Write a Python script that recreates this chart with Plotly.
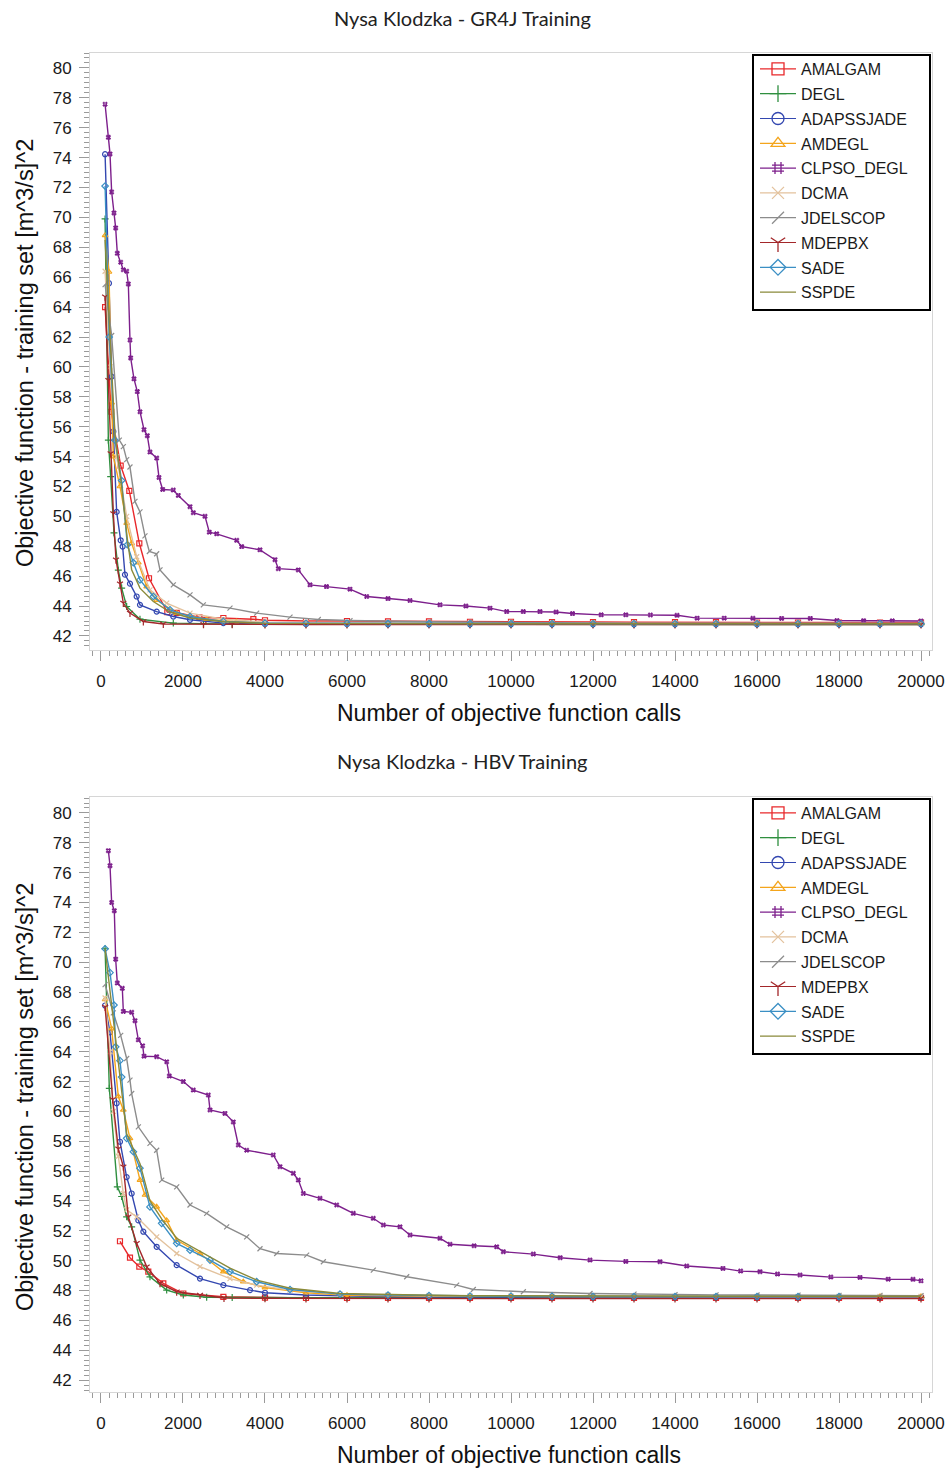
import plotly.graph_objects as go

# ---------------------------------------------------------------------------
# Convergence data: best objective value vs. number of objective function calls
# ---------------------------------------------------------------------------
NAMES = ["AMALGAM", "DEGL", "ADAPSSJADE", "AMDEGL", "CLPSO_DEGL",
         "DCMA", "JDELSCOP", "MDEPBX", "SADE", "SSPDE"]

TAIL_X = [4000, 5000, 6000, 7000, 8000, 9000, 10000, 11000, 12000, 13000,
          14000, 15000, 16000, 17000, 18000, 19000, 20000]

# ---- GR4J model ----
gr4j_amalgam_x = [100, 250, 480, 691, 935, 1171, 1618, 1846, 2400, 2984, 3716] + TAIL_X
gr4j_amalgam_y = [64.0, 57.0, 53.4, 51.7, 48.2, 45.86, 43.6, 43.55, 43.25, 43.2, 43.12,
                  43.05, 43.0, 43.0, 42.98, 42.97, 42.95, 42.95, 42.93, 42.93, 42.92, 42.92, 42.92, 42.9, 42.9, 42.9, 42.9, 42.9]

gr4j_degl_x = [100, 180, 236, 317, 423, 504, 626, 951, 1764, 2500, 3200] + TAIL_X
gr4j_degl_y = [69.9, 55.1, 52.66, 48.9, 46.4, 45.2, 43.97, 43.12, 42.86, 42.8, 42.79,
               42.78, 42.78, 42.78, 42.77, 42.77, 42.77, 42.77, 42.77, 42.77, 42.77, 42.77, 42.76, 42.76, 42.76, 42.76, 42.76, 42.76]

gr4j_adapssjade_x = [100, 195, 260, 301, 382, 480, 528, 585, 707, 870, 951, 1358, 1764, 2171, 2984] + TAIL_X
gr4j_adapssjade_y = [74.23, 65.6, 59.35, 55.68, 50.3, 48.4, 47.98, 46.1, 45.5, 44.64, 44.08, 43.63, 43.3, 43.08, 42.86,
                     42.8, 42.79, 42.79, 42.78, 42.78, 42.78, 42.78, 42.78, 42.78, 42.78, 42.78, 42.78, 42.78, 42.78, 42.78, 42.78, 42.78]

gr4j_amdegl_x = [100, 195, 260, 301, 463, 626, 748, 911, 1114, 1358, 1846, 2577, 3300] + TAIL_X
gr4j_amdegl_y = [68.8, 66.35, 57.6, 54.0, 52.0, 49.55, 48.2, 46.9, 45.3, 44.4, 43.53, 43.12, 42.95,
                 42.88, 42.86, 42.85, 42.84, 42.84, 42.83, 42.83, 42.82, 42.82, 42.82, 42.82, 42.82, 42.82, 42.82, 42.82, 42.82, 42.82]

gr4j_clpso_x = [100, 180, 220, 260, 317, 358, 398, 480, 545, 626, 667, 707, 724, 805, 886, 951, 1049, 1130, 1195,
                1358, 1415, 1504, 1764, 1886, 2171, 2252, 2537, 2642, 2822, 3310, 3431, 3878, 4244, 4325, 4813,
                5098, 5500, 6073, 6480, 7000, 7537, 8268, 8900, 9488, 9894, 10300, 10707, 11100, 11500, 12200,
                12800, 13400, 14050, 14540, 15200, 15900, 16600, 17300, 17950, 18600, 19300, 20000]
gr4j_clpso_y = [77.57, 75.36, 74.25, 71.7, 70.3, 69.3, 67.6, 67.0, 66.5, 66.4, 65.55, 61.8, 60.6, 59.2, 58.35, 57.0,
                55.8, 55.4, 54.3, 53.9, 52.6, 51.8, 51.76, 51.4, 50.65, 50.25, 50.0, 48.94, 48.83, 48.4, 47.98,
                47.76, 47.1, 46.5, 46.42, 45.42, 45.3, 45.13, 44.64, 44.5, 44.37, 44.08, 44.0, 43.86, 43.63,
                43.63, 43.63, 43.6, 43.5, 43.41, 43.41, 43.4, 43.38, 43.19, 43.19, 43.18, 43.17, 43.17, 43.03,
                43.02, 43.01, 43.0]

gr4j_dcma_x = [100, 220, 382, 626, 870, 1195, 1602, 2171, 2984] + TAIL_X
gr4j_dcma_y = [66.4, 60.0, 54.0, 50.0, 47.3, 45.08, 44.2, 43.53, 43.12,
               42.92, 42.9, 42.88, 42.87, 42.86, 42.85, 42.85, 42.84, 42.84, 42.84, 42.83, 42.83, 42.83, 42.83, 42.83, 42.83, 42.83]

gr4j_jdelscop_x = [100, 260, 447, 545, 626, 707, 829, 951, 1073, 1179, 1358, 1439, 1764, 2171, 2496, 3146, 3797,
                   4610, 5300, 6073] + TAIL_X[4:]
gr4j_jdelscop_y = [65.5, 62.1, 55.1, 54.67, 53.8, 53.3, 51.0, 50.3, 48.7, 47.65, 47.5, 46.42, 45.42, 44.75, 44.08,
                   43.86, 43.53, 43.26, 43.1, 43.03, 42.95, 42.92, 42.9, 42.88, 42.87, 42.86, 42.86, 42.85, 42.85,
                   42.85, 42.84, 42.84, 42.84]

gr4j_mdepbx_x = [100, 180, 236, 301, 366, 463, 545, 707, 1033, 1520, 2500, 3200] + TAIL_X
gr4j_mdepbx_y = [64.7, 59.1, 54.2, 50.2, 47.1, 45.5, 44.2, 43.53, 42.97, 42.8, 42.78, 42.78,
                 42.77, 42.77, 42.77, 42.77, 42.77, 42.77, 42.77, 42.77, 42.77, 42.77, 42.77, 42.77, 42.77, 42.77, 42.77, 42.77, 42.77]

gr4j_sade_x = [100, 200, 341, 504, 642, 789, 951, 1277, 1683, 2171, 2984] + TAIL_X
gr4j_sade_y = [72.1, 62.0, 55.1, 52.4, 48.1, 46.9, 45.75, 44.64, 43.75, 43.3, 42.97,
               42.86, 42.85, 42.84, 42.83, 42.83, 42.82, 42.82, 42.82, 42.82, 42.82, 42.82, 42.82, 42.82, 42.82, 42.82, 42.82, 42.82]

gr4j_sspde_x = [100, 200, 341, 504, 642, 748, 951, 1277, 1683, 2171, 2984] + TAIL_X
gr4j_sspde_y = [68.5, 63.0, 55.5, 52.0, 48.5, 46.42, 45.2, 44.3, 43.6, 43.2, 42.95,
                42.84, 42.83, 42.83, 42.82, 42.82, 42.82, 42.82, 42.82, 42.82, 42.82, 42.82, 42.82, 42.82, 42.82, 42.82, 42.82, 42.82]

# ---- HBV model ----
hbv_amalgam_x = [463, 707, 935, 1154, 1520, 2008, 2984] + TAIL_X
hbv_amalgam_y = [51.3, 50.2, 49.6, 49.26, 48.48, 47.8, 47.58,
                 47.52, 47.5, 47.5, 47.5, 47.5, 47.5, 47.5, 47.5, 47.5, 47.5, 47.5, 47.5, 47.5, 47.5, 47.5, 47.5, 47.5]

hbv_degl_x = [100, 203, 398, 504, 626, 748, 951, 1195, 1602, 2008, 2577, 3200] + TAIL_X
hbv_degl_y = [70.9, 61.55, 54.95, 54.3, 52.94, 52.27, 50.04, 48.92, 48.03, 47.7, 47.55, 47.53,
              47.52, 47.52, 47.52, 47.52, 47.52, 47.52, 47.52, 47.52, 47.52, 47.52, 47.52, 47.52, 47.52, 47.52, 47.52, 47.52, 47.52]

hbv_adapssjade_x = [100, 220, 382, 463, 626, 748, 911, 1033, 1358, 1846, 2415, 2984, 3634] + TAIL_X
hbv_adapssjade_y = [67.1, 65.3, 60.55, 57.97, 55.6, 54.5, 52.7, 51.94, 50.93, 49.7, 48.8, 48.36, 48.03,
                    47.85, 47.7, 47.62, 47.58, 47.56, 47.56, 47.55, 47.55, 47.55, 47.55, 47.55, 47.55, 47.55, 47.55, 47.55, 47.55, 47.55]

hbv_amdegl_x = [100, 260, 423, 545, 707, 951, 1073, 1358, 1602, 1846, 2415, 2984, 3471] + TAIL_X
hbv_amdegl_y = [67.5, 65.55, 61.0, 60.1, 58.2, 55.4, 54.4, 53.61, 52.7, 51.38, 50.48, 49.26, 48.59,
                48.2, 47.85, 47.68, 47.64, 47.62, 47.61, 47.6, 47.6, 47.6, 47.6, 47.6, 47.6, 47.6, 47.6, 47.6, 47.6, 47.6]

hbv_clpso_x = [180, 220, 260, 325, 358, 398, 520, 545, 748, 829, 911, 1016, 1049, 1358, 1602, 1667, 2008, 2252,
               2618, 2659, 3024, 3227, 3349, 3553, 4203, 4366, 4691, 4813, 4935, 5341, 5748, 6154, 6642, 6886,
               7293, 7537, 8268, 8512, 9100, 9651, 9813, 10545, 11200, 11927, 12800, 13634, 14285, 15170,
               15600, 16073, 16500, 17049, 17800, 18512, 19200, 19805, 20000]
hbv_clpso_y = [77.47, 76.47, 74.0, 73.45, 70.2, 68.6, 68.25, 66.7, 66.64, 66.08, 64.8, 64.4, 63.7, 63.67, 63.33,
               62.37, 62.0, 61.43, 61.1, 60.1, 59.87, 59.3, 57.75, 57.4, 57.08, 56.3, 55.85, 55.4, 54.5, 54.18,
               53.73, 53.17, 52.84, 52.39, 52.27, 51.72, 51.5, 51.1, 51.0, 50.93, 50.6, 50.44, 50.2, 50.04, 49.95,
               49.93, 49.64, 49.48, 49.3, 49.26, 49.1, 49.04, 48.9, 48.88, 48.76, 48.75, 48.65]

hbv_dcma_x = [100, 220, 300, 423, 545, 626, 870, 1358, 1846, 2415, 3146, 3797, 4610, 5829] + TAIL_X[3:]
hbv_dcma_y = [67.6, 64.0, 60.0, 57.0, 54.5, 53.4, 52.94, 51.6, 50.48, 49.6, 48.8, 48.36, 48.03, 47.76,
              47.7, 47.66, 47.64, 47.62, 47.61, 47.6, 47.6, 47.6, 47.6, 47.6, 47.6, 47.6, 47.6, 47.6]

hbv_jdelscop_x = [100, 300, 480, 626, 707, 748, 911, 1195, 1358, 1480, 1846, 2171, 2577, 3065, 3553, 3878, 4285,
                  5016, 5423, 6642, 7456, 8675, 9081, 10301, 11927, 13000, 14000, 15000, 16000, 17000, 18000,
                  19000, 20000]
hbv_jdelscop_y = [68.5, 66.6, 65.1, 63.55, 62.1, 61.2, 58.97, 57.86, 57.4, 55.4, 54.95, 53.73, 53.17, 52.27, 51.6,
                  50.8, 50.48, 50.37, 49.93, 49.37, 48.92, 48.36, 48.07, 47.92, 47.8, 47.76, 47.72, 47.71, 47.7,
                  47.69, 47.68, 47.67, 47.66]

hbv_mdepbx_x = [100, 285, 423, 545, 667, 870, 1114, 1439, 1846, 2415, 3000] + TAIL_X
hbv_mdepbx_y = [67.0, 60.8, 57.5, 56.3, 52.94, 51.16, 49.6, 48.48, 47.92, 47.7, 47.5,
                47.48, 47.47, 47.47, 47.46, 47.46, 47.46, 47.46, 47.46, 47.46, 47.46, 47.46, 47.46, 47.46, 47.46, 47.46, 47.46, 47.46]

hbv_sade_x = [100, 220, 317, 358, 463, 504, 626, 789, 951, 1195, 1480, 1846, 2171, 2659, 3146, 3797, 4610,
              5829] + TAIL_X[3:]
hbv_sade_y = [70.9, 69.3, 67.13, 64.33, 63.4, 62.3, 58.2, 57.3, 56.2, 53.6, 52.5, 51.16, 50.7, 50.04, 49.26,
              48.59, 48.07, 47.76, 47.7, 47.66, 47.63, 47.62, 47.61, 47.6, 47.6, 47.6, 47.6, 47.6, 47.6, 47.6]

hbv_sspde_x = [100, 180, 300, 480, 626, 789, 951, 1195, 1480, 1846, 2171, 2659, 3146, 3797, 4610,
               5829] + TAIL_X[3:]
hbv_sspde_y = [70.9, 69.0, 66.5, 62.0, 58.5, 57.5, 56.5, 54.0, 52.8, 51.5, 51.0, 50.2, 49.5, 48.7, 48.15, 47.8,
               47.72, 47.68, 47.65, 47.64, 47.63, 47.62, 47.62, 47.62, 47.62, 47.62, 47.62, 47.62, 47.62, 47.62]

GR4J_SERIES = [
    (gr4j_amalgam_x, gr4j_amalgam_y), (gr4j_degl_x, gr4j_degl_y),
    (gr4j_adapssjade_x, gr4j_adapssjade_y), (gr4j_amdegl_x, gr4j_amdegl_y),
    (gr4j_clpso_x, gr4j_clpso_y), (gr4j_dcma_x, gr4j_dcma_y),
    (gr4j_jdelscop_x, gr4j_jdelscop_y), (gr4j_mdepbx_x, gr4j_mdepbx_y),
    (gr4j_sade_x, gr4j_sade_y), (gr4j_sspde_x, gr4j_sspde_y),
]
HBV_SERIES = [
    (hbv_amalgam_x, hbv_amalgam_y), (hbv_degl_x, hbv_degl_y),
    (hbv_adapssjade_x, hbv_adapssjade_y), (hbv_amdegl_x, hbv_amdegl_y),
    (hbv_clpso_x, hbv_clpso_y), (hbv_dcma_x, hbv_dcma_y),
    (hbv_jdelscop_x, hbv_jdelscop_y), (hbv_mdepbx_x, hbv_mdepbx_y),
    (hbv_sade_x, hbv_sade_y), (hbv_sspde_x, hbv_sspde_y),
]

X_TICKS = [0, 2000, 4000, 6000, 8000, 10000, 12000, 14000, 16000, 18000, 20000]

# ---------------------------------------------------------------------------
# Styling
# ---------------------------------------------------------------------------
COLORS = ["#e8282b", "#2f8f3f", "#3347b0", "#f4a51c", "#7d1f8c",
          "#e3c29d", "#8c8c8c", "#a3272a", "#3b8fc4", "#8a8a3a"]
SYMBOLS = ["square-open", "cross-thin-open", "circle-open", "triangle-up-open",
           "hash-open", "x-thin-open", "line-ne-open", "y-down-open",
           "diamond-open", None]

W, H = 951, 1470
FONT = "Liberation Sans, Arial, sans-serif"
TICK_COLOR = "#9a9a9a"
FRAME_COLOR = "#d6d6d6"


def px_x(p):
    return p / W


def px_y(p):
    return 1 - p / H


fig = go.Figure()

for panel, series in enumerate([GR4J_SERIES, HBV_SERIES]):
    ax = "" if panel == 0 else "2"
    for i, (xs, ys) in enumerate(series):
        sym = SYMBOLS[i]
        fig.add_trace(go.Scatter(
            x=xs, y=ys, name=NAMES[i],
            xaxis="x" + ax, yaxis="y" + ax,
            showlegend=False,
            mode="lines+markers" if sym else "lines",
            line=dict(color=COLORS[i], width=1.4),
            marker=dict(symbol=sym or "circle", size=5, color=COLORS[i],
                        line=dict(color=COLORS[i], width=1.2)),
        ))
    # legend entries with full-size symbols
    for i in range(len(NAMES)):
        sym = SYMBOLS[i]
        fig.add_trace(go.Scatter(
            x=[None], y=[None], name=NAMES[i],
            xaxis="x" + ax, yaxis="y" + ax,
            legend="legend" + ax,
            legendgroup=f"{panel}-{i}",
            mode="lines+markers" if sym else "lines",
            line=dict(color=COLORS[i], width=1.2),
            marker=dict(symbol=sym or "circle", size=12, color=COLORS[i],
                        line=dict(color=COLORS[i], width=1.3)),
        ))

common_x = dict(
    range=[-268, 20268], tickvals=X_TICKS, tickformat="d", ticks="outside", ticklen=10,
    tickcolor=TICK_COLOR, tickwidth=1, showline=True, linecolor=FRAME_COLOR,
    linewidth=1, mirror=True, showgrid=False, zeroline=False, automargin=False,
    tickfont=dict(family=FONT, size=17, color="#1a1a1a"),
    ticklabelstandoff=6,
    minor=dict(dtick=200, ticks="outside", ticklen=5, tickcolor=TICK_COLOR),
)
common_y = dict(
    dtick=2, tick0=0, ticks="outside", ticklen=10,
    tickcolor=TICK_COLOR, tickwidth=1, showline=True, linecolor=FRAME_COLOR,
    linewidth=1, mirror=True, showgrid=False, zeroline=False, automargin=False,
    tickfont=dict(family=FONT, size=17, color="#1a1a1a"),
    ticklabelstandoff=4,
    minor=dict(dtick=2 / 6, ticks="outside", ticklen=5, tickcolor=TICK_COLOR),
)

x_dom = [px_x(90), px_x(932)]
fig.update_layout(
    width=W, height=H,
    margin=dict(l=0, r=0, t=0, b=0, autoexpand=False),
    paper_bgcolor="white", plot_bgcolor="white",
    showlegend=True,
    xaxis=dict(domain=x_dom, anchor="y", **common_x),
    yaxis=dict(domain=[px_y(650), px_y(53)], anchor="x", range=[41.06, 81.0], **common_y),
    xaxis2=dict(domain=x_dom, anchor="y2", **common_x),
    yaxis2=dict(domain=[px_y(1392), px_y(797)], anchor="x2", range=[41.2, 81.07], **common_y),
)

legend_style = dict(
    xanchor="left", yanchor="top", bgcolor="rgba(0,0,0,0)", borderwidth=0,
    itemwidth=36, tracegroupgap=1, itemsizing="trace",
    font=dict(family=FONT, size=16, color="#1a1a1a"),
)
fig.update_layout(
    legend=dict(x=px_x(755), y=px_y(52), **legend_style),
    legend2=dict(x=px_x(755), y=px_y(796), **legend_style),
)

# legend frames
for top, bottom in [(55, 310), (799, 1054)]:
    fig.add_shape(type="rect", xref="paper", yref="paper",
                  x0=px_x(753), x1=px_x(930), y0=px_y(bottom), y1=px_y(top),
                  line=dict(color="black", width=2), fillcolor="white", layer="above")

title_font = dict(family="Lato, Open Sans, sans-serif", size=20, color="#222222")
x_title_font = dict(family=FONT, size=23, color="#111111")
y_title_font = dict(family=FONT, size=23.5, color="#111111")
texts = [
    ("Nysa Klodzka - GR4J Training", 462, 18, 0, title_font),
    ("Nysa Klodzka - HBV Training", 462, 761, 0, title_font),
    ("Number of objective function calls", 509, 713, 0, x_title_font),
    ("Number of objective function calls", 509, 1455, 0, x_title_font),
    ("Objective function - training set [m^3/s]^2", 25, 353, -90, y_title_font),
    ("Objective function - training set [m^3/s]^2", 25, 1097, -90, y_title_font),
]
for text, cx, cy, ang, fnt in texts:
    fig.add_annotation(text=text, xref="paper", yref="paper",
                       x=px_x(cx), y=px_y(cy), xanchor="center", yanchor="middle",
                       textangle=ang, showarrow=False, font=fnt)

fig.write_html("out.html")
